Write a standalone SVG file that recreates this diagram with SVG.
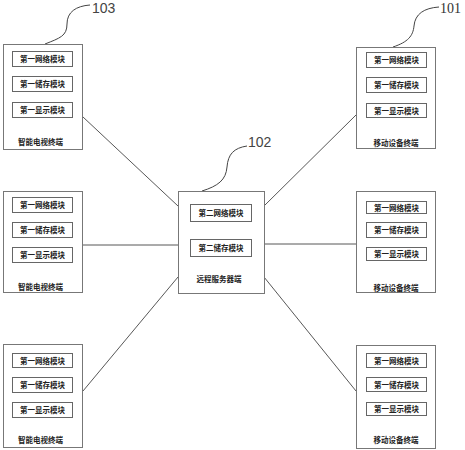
<svg xmlns="http://www.w3.org/2000/svg" width="465" height="450" viewBox="0 0 465 450">
<style>
.box{fill:#fff;stroke:#777;stroke-width:1}
.mod{fill:#fff;stroke:#666;stroke-width:1}
.t{font-family:"Noto Sans CJK SC","Noto Sans CJK JP",sans-serif;font-size:7.5px;fill:#222;text-anchor:middle;font-weight:bold}
.num{font-family:"Liberation Sans",sans-serif;font-size:14px;fill:#444}
.numS{font-family:"Liberation Serif",serif;font-size:14px;fill:#333}
.ln{stroke:#444;stroke-width:0.9;fill:none}
.lead{stroke:#444;stroke-width:1;fill:none}
</style>
<rect width="465" height="450" fill="#fff"/>
<g id="connectors">
<line class="ln" x1="83" y1="117" x2="178" y2="206"/>
<line class="ln" x1="83" y1="245" x2="178" y2="245"/>
<line class="ln" x1="83" y1="391" x2="178" y2="277"/>
<line class="ln" x1="264" y1="206" x2="356" y2="115"/>
<line class="ln" x1="264" y1="244" x2="356" y2="244"/>
<line class="ln" x1="264" y1="277" x2="356" y2="391"/>
</g>
<g id="leaders">
<path class="lead" d="M45,44 C60,38 67,36 67,24 C67,12 76,6 90,5"/>
<path class="lead" d="M393,47 C408,42 413,36 414,26 C415,14 424,8 439,7"/>
<path class="lead" d="M202,191 C218,186 226,180 227,167 C228,154 234,148 247,146"/>
</g>
<g id="label-103"><text class="num" x="92" y="13">103</text></g>
<g id="label-101"><text class="numS" x="440" y="13">101</text></g>
<g id="label-102"><text class="num" x="248" y="147">102</text></g>

<g id="tv1">
<rect class="box" x="3.5" y="44.5" width="79" height="105"/>
<rect class="mod" x="12.5" y="51.5" width="60" height="15"/>
<text class="t" x="42.5" y="62">第一网络模块</text>
<rect class="mod" x="12.5" y="76.5" width="60" height="15"/>
<text class="t" x="42.5" y="87">第一储存模块</text>
<rect class="mod" x="12.5" y="102.5" width="60" height="15"/>
<text class="t" x="42.5" y="113">第一显示模块</text>
<text class="t" x="40.5" y="145">智能电视终端</text>
</g>
<g id="tv2">
<rect class="box" x="3.5" y="191.5" width="79" height="101"/>
<rect class="mod" x="12.5" y="197.5" width="60" height="15"/>
<text class="t" x="42.5" y="208">第一网络模块</text>
<rect class="mod" x="12.5" y="222.5" width="60" height="15"/>
<text class="t" x="42.5" y="233">第一储存模块</text>
<rect class="mod" x="12.5" y="247.5" width="60" height="15"/>
<text class="t" x="42.5" y="258">第一显示模块</text>
<text class="t" x="40.5" y="290">智能电视终端</text>
</g>
<g id="tv3">
<rect class="box" x="3.5" y="344.5" width="79" height="103"/>
<rect class="mod" x="12.5" y="353.5" width="60" height="14"/>
<text class="t" x="42.5" y="363.5">第一网络模块</text>
<rect class="mod" x="12.5" y="377.5" width="60" height="15"/>
<text class="t" x="42.5" y="388">第一储存模块</text>
<rect class="mod" x="12.5" y="402.5" width="60" height="15"/>
<text class="t" x="42.5" y="413">第一显示模块</text>
<text class="t" x="40.5" y="443">智能电视终端</text>
</g>
<g id="server">
<rect class="box" x="178.5" y="191.5" width="86" height="102"/>
<rect class="mod" x="190.5" y="204.5" width="61" height="17"/>
<text class="t" x="221" y="216">第二网络模块</text>
<rect class="mod" x="190.5" y="239.5" width="61" height="17"/>
<text class="t" x="221" y="251">第二储存模块</text>
<text class="t" x="219" y="282">远程服务器端</text>
</g>
<g id="mobile1">
<rect class="box" x="356.5" y="47.5" width="79" height="101"/>
<rect class="mod" x="366.5" y="52.5" width="60" height="15"/>
<text class="t" x="396.5" y="63">第一网络模块</text>
<rect class="mod" x="366.5" y="77.5" width="60" height="15"/>
<text class="t" x="396.5" y="88">第一储存模块</text>
<rect class="mod" x="366.5" y="103.5" width="60" height="14"/>
<text class="t" x="396.5" y="113.5">第一显示模块</text>
<text class="t" x="396" y="146">移动设备终端</text>
</g>
<g id="mobile2">
<rect class="box" x="356.5" y="191.5" width="79" height="101"/>
<rect class="mod" x="366.5" y="201.5" width="60" height="12"/>
<text class="t" x="396.5" y="210.5">第一网络模块</text>
<rect class="mod" x="366.5" y="222.5" width="60" height="15"/>
<text class="t" x="396.5" y="233">第一储存模块</text>
<rect class="mod" x="366.5" y="247.5" width="60" height="13"/>
<text class="t" x="396.5" y="257">第一显示模块</text>
<text class="t" x="396" y="291">移动设备终端</text>
</g>
<g id="mobile3">
<rect class="box" x="356.5" y="345.5" width="79" height="103"/>
<rect class="mod" x="366.5" y="353.5" width="60" height="14"/>
<text class="t" x="396.5" y="363.5">第一网络模块</text>
<rect class="mod" x="366.5" y="377.5" width="60" height="14"/>
<text class="t" x="396.5" y="387.5">第一储存模块</text>
<rect class="mod" x="366.5" y="402.5" width="60" height="13"/>
<text class="t" x="396.5" y="412">第一显示模块</text>
<text class="t" x="396" y="443">移动设备终端</text>
</g>
</svg>
